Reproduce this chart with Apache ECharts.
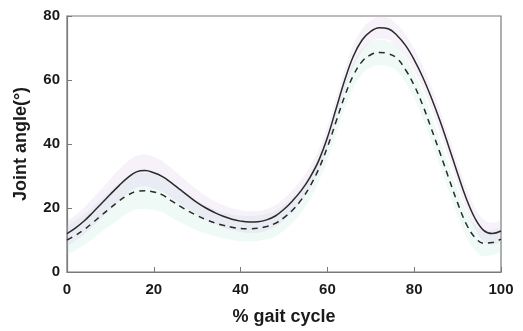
<!DOCTYPE html>
<html>
<head>
<meta charset="utf-8">
<script src="https://cdn.jsdelivr.net/npm/echarts@6/dist/echarts.min.js"></script>
<style>
  html, body { margin: 0; padding: 0; background: #fff; }
  #chart { width: 523px; height: 331px; }
</style>
</head>
<body>
<div id="chart"></div>
<script>
// % gait cycle, every 2 %
const gait = [0,2,4,6,8,10,12,14,16,18,20,22,24,26,28,30,32,34,36,38,40,42,44,46,48,50,
  52,54,56,58,60,62,64,66,68,70,72,74,76,78,80,82,84,86,88,90,92,94,96,98,100];

// solid line (mean) and its band half-width
const solidMean = [12.0,13.8,16.0,18.7,21.5,24.3,27.0,29.5,31.3,31.7,31.0,29.8,27.9,25.8,23.7,21.7,20.0,18.6,17.4,16.5,15.9,
  15.6,15.7,16.3,17.5,19.6,22.3,25.5,29.6,34.8,42.0,51.0,60.0,67.5,72.5,75.2,76.3,76.0,74.0,70.8,66.3,
  60.8,54.3,47.0,39.0,30.8,23.0,16.8,13.0,12.0,12.8];
const solidSd = [4.0,4.0,4.2,4.4,4.6,4.8,5.0,5.0,5.0,5.0,5.0,4.8,4.6,4.4,4.2,4.0,3.8,3.6,3.5,3.4,3.4,
  3.4,3.4,3.4,3.4,3.4,3.4,3.4,3.4,3.4,3.4,3.4,3.4,3.4,3.4,3.4,3.4,3.4,3.4,3.4,3.4,
  3.4,3.4,3.4,3.4,3.4,3.4,3.4,3.4,3.4,3.4];

// dashed line (mean) and its band half-width
const dashedMean = [10.0,11.5,13.3,15.5,17.8,20.0,22.2,24.0,25.2,25.4,25.0,24.1,22.3,20.6,19.0,17.6,16.4,15.4,14.6,14.0,13.6,
  13.5,13.7,14.2,15.2,17.0,19.4,22.6,26.8,32.2,39.0,47.0,55.0,61.5,65.8,67.9,68.6,68.2,66.8,63.2,58.3,
  52.0,44.6,37.0,29.2,21.6,15.0,10.8,9.0,9.2,10.3];
const dashedSd = [4.5,4.6,4.8,5.0,5.2,5.4,5.6,5.6,5.6,5.6,5.6,5.4,5.2,5.0,4.8,4.6,4.4,4.2,4.0,4.0,4.0,
  4.0,4.0,4.0,4.0,4.0,4.0,4.0,4.0,4.0,4.0,4.0,4.0,4.0,4.0,4.0,4.0,4.0,4.0,4.0,4.0,
  4.0,4.0,4.0,4.0,4.0,4.0,4.0,4.0,4.0,4.0];

const xTicks = [0, 20, 40, 60, 80, 100];

const chart = echarts.init(document.getElementById('chart'), null, { renderer: 'canvas' });

const lower = (m, s) => m.map((v, i) => v - s[i]);
const width = (s) => s.map(v => 2 * v);
const isTick = (idx) => xTicks.includes(gait[idx]);

const labelFont = { fontFamily: 'Liberation Sans, Arial, sans-serif', fontWeight: 'bold', color: '#1a1a1a' };
const axisGray = '#7a7a7a';

chart.setOption({
  animation: false,
  grid: { left: 67, right: 22, top: 16, bottom: 58, show: true, borderColor: axisGray, borderWidth: 1.2 },
  xAxis: {
    type: 'category', data: gait.map(String), boundaryGap: false,
    name: '% gait cycle', nameLocation: 'middle', nameGap: 36,
    nameTextStyle: { ...labelFont, fontSize: 18 },
    axisLine: { show: true, lineStyle: { color: axisGray, width: 1.2 } },
    axisTick: { show: true, inside: true, length: 5, interval: isTick, lineStyle: { color: axisGray } },
    axisLabel: { ...labelFont, fontSize: 15, margin: 10, interval: isTick },
    splitLine: { show: false }
  },
  yAxis: {
    type: 'value', min: 0, max: 80, interval: 20,
    name: 'Joint angle(°)', nameLocation: 'middle', nameGap: 37, nameRotate: 90,
    nameTextStyle: { ...labelFont, fontSize: 18 },
    axisLine: { show: true, lineStyle: { color: axisGray, width: 1.2 } },
    axisTick: { show: true, inside: true, length: 5, lineStyle: { color: axisGray } },
    axisLabel: { ...labelFont, fontSize: 15, margin: 7 },
    splitLine: { show: false }
  },
  series: [
    { type: 'line', data: lower(dashedMean, dashedSd), stack: 'dBand', smooth: 0.4, symbol: 'none',
      lineStyle: { opacity: 0 }, silent: true },
    { type: 'line', data: width(dashedSd), stack: 'dBand', smooth: 0.4, symbol: 'none',
      lineStyle: { opacity: 0 }, areaStyle: { color: 'rgba(150,220,195,0.22)' }, silent: true },
    { type: 'line', data: lower(solidMean, solidSd), stack: 'sBand', smooth: 0.4, symbol: 'none',
      lineStyle: { opacity: 0 }, silent: true },
    { type: 'line', data: width(solidSd), stack: 'sBand', smooth: 0.4, symbol: 'none',
      lineStyle: { opacity: 0 }, areaStyle: { color: 'rgba(205,165,225,0.22)' }, silent: true },
    { name: 'solid', type: 'line', data: solidMean, smooth: 0.4, symbol: 'none',
      lineStyle: { color: '#2a2a2a', width: 1.5 } },
    { name: 'dashed', type: 'line', data: dashedMean, smooth: 0.4, symbol: 'none',
      lineStyle: { color: '#2a2a2a', width: 1.5, type: [6, 5] } }
  ]
});
window.addEventListener('resize', chart.resize);
</script>
</body>
</html>
